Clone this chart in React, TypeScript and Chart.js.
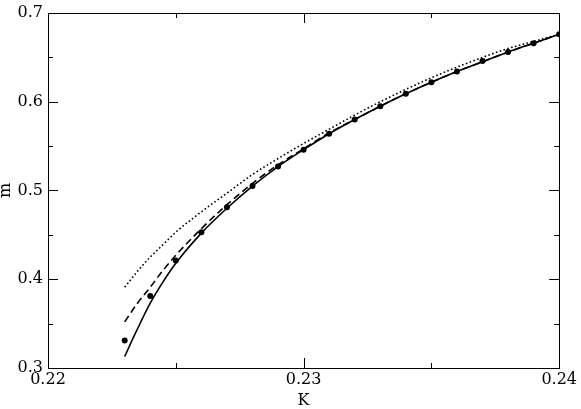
import React, { useEffect, useRef } from "react";
import { Chart, registerables } from "chart.js";

Chart.register(...registerables);

const K_POINTS = [0.223, 0.224, 0.225, 0.226, 0.227, 0.228, 0.229, 0.23, 0.231, 0.232, 0.233, 0.234, 0.235, 0.236, 0.237, 0.238, 0.239, 0.24];
const M_POINTS = [0.331, 0.381, 0.421, 0.453, 0.481, 0.505, 0.527, 0.546, 0.564, 0.58, 0.595, 0.609, 0.622, 0.634, 0.646, 0.656, 0.666, 0.676];

const K_LINE = [0.223, 0.2235, 0.224, 0.2245, 0.225, 0.226, 0.227, 0.228, 0.229, 0.23, 0.231, 0.232, 0.233, 0.234, 0.235, 0.236, 0.237, 0.238, 0.239, 0.24];
const M_SOLID = [0.313, 0.344, 0.373, 0.397, 0.418, 0.452, 0.48, 0.505, 0.527, 0.546, 0.564, 0.58, 0.595, 0.609, 0.622, 0.634, 0.645, 0.656, 0.666, 0.676];
const M_DASHED = [0.352, 0.373, 0.391, 0.41, 0.427, 0.457, 0.484, 0.508, 0.529, 0.547, 0.565, 0.58, 0.595, 0.609, 0.622, 0.634, 0.645, 0.656, 0.666, 0.676];
const M_DOTTED = [0.391, 0.409, 0.425, 0.439, 0.453, 0.476, 0.497, 0.518, 0.536, 0.553, 0.569, 0.585, 0.6, 0.614, 0.627, 0.639, 0.65, 0.66, 0.668, 0.676];

const X_MAJOR = [0.22, 0.23, 0.24];
const X_MINOR = [0.225, 0.235];
const Y_MAJOR = [0.3, 0.4, 0.5, 0.6, 0.7];
const Y_MINOR = [0.35, 0.45, 0.55, 0.65];

const FONT = "'DejaVu Serif', serif";

const tickPlugin = {
  id: "innerTicks",
  beforeDatasetsDraw(chart: any) {
    const { ctx, chartArea, scales } = chart;
    const { left, right, top, bottom } = chartArea;
    ctx.save();
    ctx.strokeStyle = "#000";
    ctx.lineWidth = 1;
    ctx.beginPath();
    const drawX = (vals: number[], len: number) => {
      vals.forEach((v) => {
        const px = Math.round(scales.x.getPixelForValue(v)) + 0.5;
        ctx.moveTo(px, bottom);
        ctx.lineTo(px, bottom - len);
        ctx.moveTo(px, top);
        ctx.lineTo(px, top + len);
      });
    };
    const drawY = (vals: number[], len: number) => {
      vals.forEach((v) => {
        const py = Math.round(scales.y.getPixelForValue(v)) + 0.5;
        ctx.moveTo(left, py);
        ctx.lineTo(left + len, py);
        ctx.moveTo(right, py);
        ctx.lineTo(right - len, py);
      });
    };
    drawX(X_MAJOR, 10);
    drawX(X_MINOR, 5);
    drawY(Y_MAJOR, 10);
    drawY(Y_MINOR, 5);
    ctx.stroke();
    ctx.strokeRect(Math.round(left) + 0.5, Math.round(top) + 0.5, Math.round(right - left), Math.round(bottom - top));
    ctx.restore();
  },
};

export default function App() {
  const ref = useRef<HTMLCanvasElement | null>(null);
  useEffect(() => {
    if (!ref.current) return;
    const line = (ys: number[]) => K_LINE.map((k, i) => ({ x: k, y: ys[i] }));
    const chart = new Chart(ref.current, {
      type: "scatter",
      data: {
        datasets: [
          {
            data: line(M_DOTTED),
            showLine: true,
            borderColor: "#000",
            borderWidth: 1.6,
            borderDash: [1.6, 2.4],
            pointRadius: 0,
            cubicInterpolationMode: "monotone",
          },
          {
            data: line(M_DASHED),
            showLine: true,
            borderColor: "#000",
            borderWidth: 1.6,
            borderDash: [7, 4],
            pointRadius: 0,
            cubicInterpolationMode: "monotone",
          },
          {
            data: line(M_SOLID),
            showLine: true,
            borderColor: "#000",
            borderWidth: 1.6,
            pointRadius: 0,
            cubicInterpolationMode: "monotone",
          },
          {
            data: K_POINTS.map((k, i) => ({ x: k, y: M_POINTS[i] })),
            showLine: false,
            pointRadius: 3,
            pointBackgroundColor: "#000",
            pointBorderColor: "#000",
            pointBorderWidth: 0,
          },
        ],
      },
      plugins: [tickPlugin],
      options: {
        animation: false,
        responsive: false,
        maintainAspectRatio: false,
        layout: { padding: { left: 0, top: 9, right: 20, bottom: 0 } },
        plugins: { legend: { display: false }, tooltip: { enabled: false } },
        scales: {
          x: {
            type: "linear",
            min: 0.22,
            max: 0.24,
            grid: { display: false, drawTicks: false },
            border: { display: false },
            afterBuildTicks: (s: any) => {
              s.ticks = X_MAJOR.map((v) => ({ value: v }));
            },
            afterFit: (s: any) => {
              s.height = 41;
            },
            ticks: {
              color: "#000",
              padding: 4,
              maxRotation: 0,
              font: { family: FONT, size: 16, lineHeight: 1 },
              callback: (v: any) => Number(v).toFixed(2),
            },
            title: {
              display: true,
              text: "K",
              color: "#000",
              padding: 0,
              font: { family: FONT, size: 16, lineHeight: 1 },
            },
          },
          y: {
            type: "linear",
            min: 0.3,
            max: 0.7,
            grid: { display: false, drawTicks: false },
            border: { display: false },
            afterBuildTicks: (s: any) => {
              s.ticks = Y_MAJOR.map((v) => ({ value: v }));
            },
            afterFit: (s: any) => {
              s.width = 48;
            },
            ticks: {
              color: "#000",
              padding: 5,
              font: { family: FONT, size: 16, lineHeight: 1 },
              callback: (v: any) => Number(v).toFixed(1),
            },
            title: {
              display: true,
              text: "m",
              color: "#000",
              padding: { top: -2, bottom: 0 },
              font: { family: FONT, size: 16, lineHeight: 1 },
            },
          },
        },
      },
    });
    return () => chart.destroy();
  }, []);
  return (
    <div style={{ position: "absolute", left: 0, top: 0, width: 581, height: 409, background: "#fff" }}>
      <canvas ref={ref} width={581} height={409} style={{ display: "block", width: 581, height: 409 }} />
    </div>
  );
}
